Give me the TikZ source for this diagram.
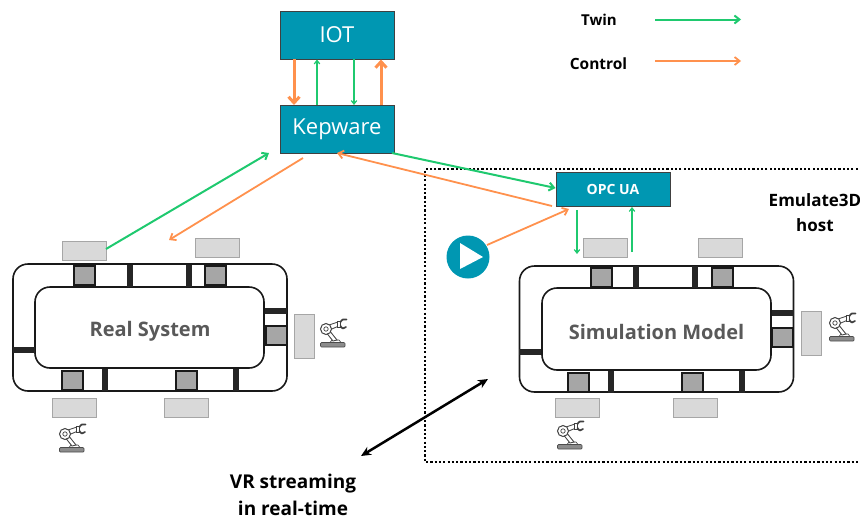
\documentclass[tikz,border=0pt]{standalone}
\usepackage{fontspec}
\setmainfont{Open Sans}
\usetikzlibrary{arrows.meta}

\definecolor{tealbox}{HTML}{0097B2}
\definecolor{twingreen}{HTML}{1FC96F}
\definecolor{ctrlorange}{HTML}{FF914D}
\definecolor{padgray}{HTML}{D9D9D9}
\definecolor{stationgray}{HTML}{A6A6A6}
\definecolor{labelgray}{HTML}{595959}

\tikzset{
  box/.style={rectangle, draw=black!75, fill=tealbox, line width=1pt, inner sep=0pt, text=white},
  pad/.style={rectangle, draw=black!35, fill=padgray, line width=1pt, inner sep=0pt},
  station/.style={rectangle, draw=black!90, fill=stationgray, line width=2pt, inner sep=0pt, minimum width=21pt, minimum height=19pt},
  barv/.style={rectangle, fill=black!85, inner sep=0pt, minimum width=5.5pt, minimum height=22pt},
  barh/.style={rectangle, fill=black!85, inner sep=0pt, minimum width=22pt, minimum height=5.5pt},
  track/.style={rectangle, draw=black!90, fill=white, rounded corners=15pt, line width=1.6pt, inner sep=0pt},
  twin/.style={draw=twingreen, -{Straight Barb[length=5pt,width=8pt]}, line width=2pt},
  twinthin/.style={draw=twingreen, -{Straight Barb[length=3.5pt,width=5.5pt]}, line width=1.2pt},
  ctrl/.style={draw=ctrlorange, -{Straight Barb[length=5pt,width=8pt]}, line width=1.8pt},
  ctrlthick/.style={draw=ctrlorange, -{Straight Barb[length=6pt,width=11pt]}, line width=3pt},
  robotarm/.pic={
    \draw[draw=black!70, fill=black!45, line width=0.7pt, rounded corners=1pt] (-12.5,9.5) rectangle (12,14);
    \draw[draw=black!70, fill=white, line width=0.7pt] (-3,9.5) -- (-1,7) -- (6,7) -- (8,9.5) -- cycle;
    \draw[draw=black!70, fill=white, line width=0.9pt] (-8,-2) -- (-4,-3) -- (4,7) -- (0,8) -- cycle;
    \draw[draw=black!70, fill=white, line width=0.9pt] (-7,-7) -- (5,-11) -- (6,-7) -- (-6,-2) -- cycle;
    \draw[draw=black!75, fill=white, line width=1pt] (-7,-4) circle (5.5pt);
    \draw[draw=black!75, fill=white, line width=0.7pt] (-7,-4) circle (2.2pt);
    \draw[draw=black!75, fill=white, line width=1pt] (4,-6) -- (4,-12) -- (7.5,-12) -- (7.5,-6) -- cycle;
    \draw[draw=black!75, line width=1.7pt, line cap=round] (7.5,-11) .. controls (9,-14) and (11,-14) .. (13.5,-13.5);
    \draw[draw=black!75, line width=1.7pt, line cap=round] (7.5,-7) .. controls (9,-4) and (11,-4) .. (13,-6);
  }
}

\begin{document}
\begin{tikzpicture}[x=1pt,y=-1pt]
\useasboundingbox (0,0) rectangle (860,517);

% upper boxes
\node[box, minimum width=114pt, minimum height=48pt, font=\fontsize{22}{24}\selectfont] (iot) at (337,35) {IOT};
\node[box, minimum width=114pt, minimum height=48pt, font=\fontsize{22}{24}\selectfont] (kepware) at (337,129) {Kepware};
\node[box, minimum width=114pt, minimum height=34pt, font=\bfseries\fontsize{14}{14}\selectfont] (opcua) at (613,189) {OPC UA};
\node[circle, fill=tealbox, minimum size=43pt, inner sep=0pt] (playbtn) at (468,257) {};
\fill[white] (460,243) -- (483,257) -- (460,269) -- cycle;

% legend
\node[font=\bfseries\fontsize{15}{17}\selectfont] (twintext) at (599,20) {Twin};
\node[font=\bfseries\fontsize{15.5}{17}\selectfont] (ctrltext) at (598.5,64) {Control};
\coordinate (La) at (655,19.5);
\coordinate (Lb) at (741,19.5);
\coordinate (Lc) at (655,61);
\coordinate (Ld) at (741,61);
\draw[twin] (La) -- (Lb);
\draw[ctrl] (Lc) -- (Ld);

% host frame
\coordinate (Fa) at (862,169);
\coordinate (Fb) at (425,169);
\coordinate (Fc) at (425,462);
\coordinate (Fd) at (862,462);
\draw[line width=2.2pt, dash pattern=on 2.2pt off 2.1pt] (Fa) -- (Fb) -- (Fc) -- (Fd);
\node[align=center, font=\bfseries\fontsize{17}{25}\selectfont] (hosttext) at (815,213) {Emulate3D\\host};

% real system
\node[track, minimum width=274pt, minimum height=127pt] (realouter) at (150,327.5) {};
\node[track, minimum width=229pt, minimum height=81pt] (realinner) at (149.5,327.5) {};
\node[font=\bfseries\fontsize{20}{22}\selectfont, text=labelgray] (realtext) at (150,331) {Real System};
\node[station] (Ra) at (84,275.5) {};
\node[station] (Rb) at (215.5,275.5) {};
\node[station] (Rc) at (276,335.5) {};
\node[station] (Rd) at (72,380.5) {};
\node[station] (Re) at (186,380.5) {};
\node[barv] (Rf) at (130,275.5) {};
\node[barv] (Rg) at (189,275.5) {};
\node[barv] (Rh) at (105,380) {};
\node[barv] (Ri) at (236,380) {};
\node[barh] (Rj) at (276,311) {};
\node[barh] (Rk) at (24,350) {};
\node[pad, minimum width=44pt, minimum height=19pt] (Pa) at (84,250.5) {};
\node[pad, minimum width=44pt, minimum height=19pt] (Pb) at (217,247.5) {};
\node[pad, minimum width=20pt, minimum height=44pt] (Pc) at (304,336) {};
\node[pad, minimum width=44pt, minimum height=19pt] (Pd) at (74,407.5) {};
\node[pad, minimum width=44pt, minimum height=19pt] (Pe) at (186,407.5) {};
\pic at (333,333) {robotarm};
\pic at (72,438) {robotarm};

% simulation model
\node[track, minimum width=274pt, minimum height=126pt] (simouter) at (656.5,329) {};
\node[track, minimum width=229pt, minimum height=82pt] (siminner) at (656.5,329) {};
\node[font=\bfseries\fontsize{20}{22}\selectfont, text=labelgray] (simtext) at (656.5,332) {Simulation Model};
\node[station] (Sa) at (601,277) {};
\node[station] (Sb) at (722.5,277) {};
\node[station] (Sc) at (782.5,337.5) {};
\node[station] (Sd) at (578,382.5) {};
\node[station] (Se) at (692,382.5) {};
\node[barv] (Sf) at (636,277) {};
\node[barv] (Sg) at (695,277) {};
\node[barv] (Sh) at (611,382) {};
\node[barv] (Si) at (742,382) {};
\node[barh] (Sj) at (782.5,313) {};
\node[barh] (Sk) at (530,352) {};
\node[pad, minimum width=44pt, minimum height=19pt] (Qa) at (605,247.5) {};
\node[pad, minimum width=44pt, minimum height=19pt] (Qb) at (720,247.5) {};
\node[pad, minimum width=20pt, minimum height=44pt] (Qc) at (811.5,333.5) {};
\node[pad, minimum width=44pt, minimum height=19pt] (Qd) at (577,407.5) {};
\node[pad, minimum width=44pt, minimum height=19pt] (Qe) at (695,407.5) {};
\pic at (842,327) {robotarm};
\pic at (570,435) {robotarm};

% connectors
\coordinate (A) at (294,59);
\coordinate (B) at (294,105);
\coordinate (C) at (317,105);
\coordinate (D) at (317,59.5);
\coordinate (E) at (354,59);
\coordinate (F) at (354,105);
\coordinate (G) at (381,105);
\coordinate (H) at (381,59.5);
\draw[ctrlthick] (A) -- (B);
\draw[twinthin] (C) -- (D);
\draw[twinthin] (E) -- (F);
\draw[ctrlthick] (G) -- (H);

\coordinate (I) at (392,153);
\coordinate (J) at (555.5,188);
\coordinate (K) at (552,206);
\coordinate (L) at (337,153);
\coordinate (M) at (106,249);
\coordinate (N) at (269,153);
\coordinate (O) at (303,158);
\coordinate (P) at (169,240);
\coordinate (Q) at (487,245);
\coordinate (R) at (569,209);
\coordinate (S) at (577,210);
\coordinate (T) at (577,254);
\coordinate (U) at (632,252);
\coordinate (V) at (632,207);
\draw[twin] (I) -- (J);
\draw[ctrl] (K) -- (L);
\draw[twin] (M) -- (N);
\draw[ctrl] (O) -- (P);
\draw[ctrl] (Q) -- (R);
\draw[twinthin] (S) -- (T);
\draw[twinthin] (U) -- (V);

% streaming
\coordinate (W) at (361,456);
\coordinate (X) at (488,379);
\draw[{Stealth[length=10pt,width=9pt]}-{Stealth[length=10pt,width=9pt]}, line width=2.5pt] (W) -- (X);
\node[align=center, inner sep=0pt, font=\bfseries\fontsize{19}{27}\selectfont] (vrtext) at (293,494.5) {VR streaming\\in real-time};
\end{tikzpicture}
\end{document}
